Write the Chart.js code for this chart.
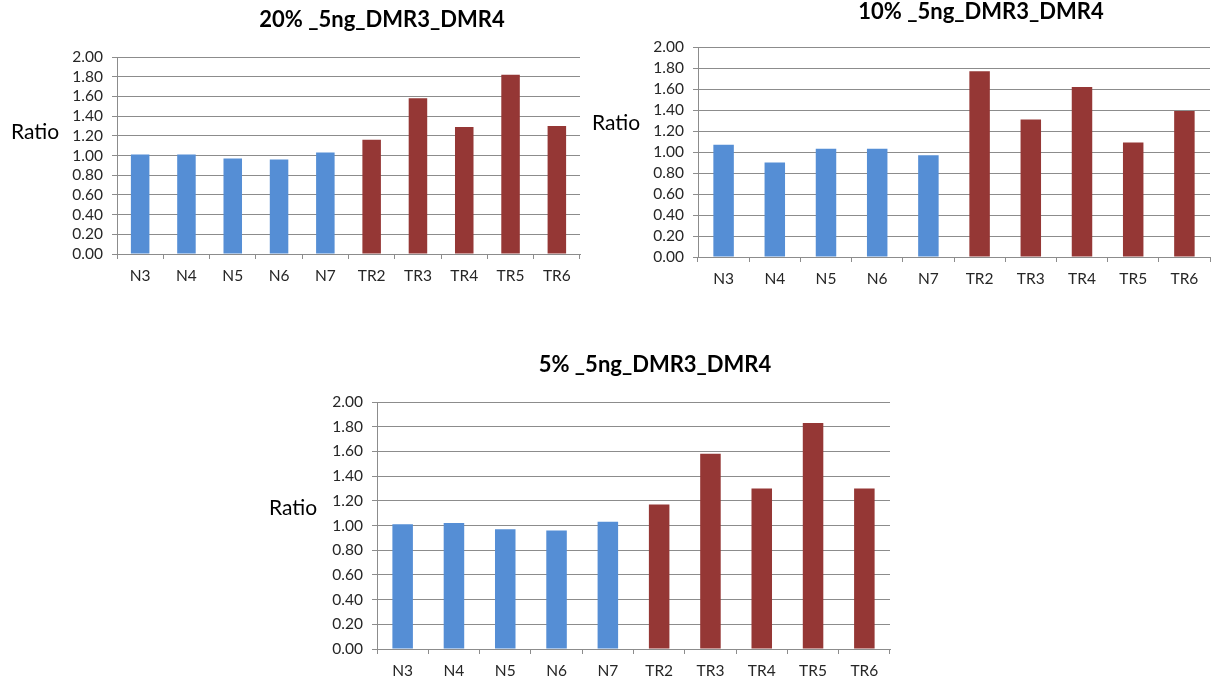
<!DOCTYPE html>
<html>
<head>
<meta charset="utf-8">
<script src="https://cdn.jsdelivr.net/npm/chart.js@4.4.1/dist/chart.umd.min.js"></script>
<style>
  html, body { margin: 0; padding: 0; background: #ffffff; }
  body { width: 1215px; height: 682px; position: relative; overflow: hidden; }
  .box { position: absolute; }
</style>
</head>
<body>
<div class="box" style="left:0px;top:0px;width:600px;height:300px;"><canvas id="c1"></canvas></div>
<div class="box" style="left:590px;top:0px;width:625px;height:300px;"><canvas id="c2"></canvas></div>
<div class="box" style="left:250px;top:340px;width:660px;height:342px;"><canvas id="c3"></canvas></div>
<script>
// ---- data ----
const categories = ['N3', 'N4', 'N5', 'N6', 'N7', 'TR2', 'TR3', 'TR4', 'TR5', 'TR6'];
const ratio20 = [1.01, 1.01, 0.97, 0.96, 1.03, 1.16, 1.58, 1.29, 1.82, 1.30];
const ratio10 = [1.07, 0.90, 1.03, 1.03, 0.97, 1.77, 1.31, 1.62, 1.09, 1.39];
const ratio5  = [1.01, 1.02, 0.97, 0.96, 1.03, 1.17, 1.58, 1.30, 1.83, 1.30];
const yMin = 0, yMax = 2, yStep = 0.2;
const titles = ['20% _5ng_DMR3_DMR4', '10% _5ng_DMR3_DMR4', '5% _5ng_DMR3_DMR4'];
const yAxisLabel = 'Ratio';

// ---- styles ----
const BLUE = '#558ed5';
const RED = '#953735';
const GRID = '#8c8c8c';
const TEXT = '#262626';
const FONT = 'Lato, "Open Sans", sans-serif';

function barColors() {
  return categories.map(c => c.startsWith('TR') ? RED : BLUE);
}

const labelPlugin = {
  id: 'labels',
  afterDraw(chart, args, opts) {
    const ctx = chart.ctx;
    ctx.save();
    ctx.fillStyle = '#000000';
    ctx.textBaseline = 'middle';
    ctx.textAlign = 'center';
    ctx.font = 'bold ' + opts.titleSize + 'px ' + FONT;
    ctx.fillText(opts.title, opts.titleX, opts.titleY);
    ctx.textAlign = 'left';
    ctx.font = opts.ratioSize + 'px ' + FONT;
    ctx.fillText(yAxisLabel, opts.ratioX, opts.ratioY);
    ctx.restore();
  }
};

function makeChart(id, values, cfg) {
  const el = document.getElementById(id);
  return new Chart(el, {
    type: 'bar',
    data: {
      labels: categories,
      datasets: [{
        data: values,
        backgroundColor: barColors(),
        borderWidth: 0,
        barPercentage: 0.4,
        categoryPercentage: 1.0
      }]
    },
    plugins: [labelPlugin],
    options: {
      responsive: true,
      maintainAspectRatio: false,
      animation: false,
      events: [],
      layout: { padding: cfg.padding },
      plugins: {
        legend: { display: false },
        title: { display: false },
        tooltip: { enabled: false },
        labels: {
          title: cfg.title, titleX: cfg.titleX, titleY: cfg.titleY, titleSize: cfg.titleSize,
          ratioX: cfg.ratioX, ratioY: cfg.ratioY, ratioSize: cfg.ratioSize
        }
      },
      scales: {
        x: {
          offset: true,
          grid: {
            offset: true,
            drawOnChartArea: false,
            drawTicks: true,
            tickLength: 5,
            color: GRID,
            lineWidth: 1
          },
          border: { display: true, color: GRID, width: 1 },
          ticks: {
            color: TEXT,
            font: { family: FONT, size: 15.5 },
            padding: 8,
            maxRotation: 0,
            autoSkip: false
          },
          afterFit(scale) { scale.height = 33; }
        },
        y: {
          min: yMin,
          max: yMax,
          grid: {
            drawTicks: true,
            tickLength: 5,
            color: GRID,
            lineWidth: 1
          },
          border: { display: true, color: GRID, width: 1 },
          ticks: {
            stepSize: yStep,
            autoSkip: false,
            color: TEXT,
            font: { family: FONT, size: 15.5 },
            padding: 9,
            callback: v => Number(v).toFixed(2)
          },
          afterFit(scale) { scale.width = 60; }
        }
      }
    }
  });
}

makeChart('c1', ratio20, {
  padding: { left: 57, right: 20, top: 57, bottom: 13 },
  title: titles[0], titleX: 382, titleY: 20, titleSize: 22,
  ratioX: 11, ratioY: 132, ratioSize: 21
});
makeChart('c2', ratio10, {
  padding: { left: 48, right: 5, top: 47, bottom: 10 },
  title: titles[1], titleX: 391, titleY: 12, titleSize: 22,
  ratioX: 2, ratioY: 123, ratioSize: 21
});
makeChart('c3', ratio5, {
  padding: { left: 67, right: 20, top: 62, bottom: 0 },
  title: titles[2], titleX: 405, titleY: 25, titleSize: 22,
  ratioX: 19, ratioY: 168, ratioSize: 21
});
</script>
</body>
</html>
